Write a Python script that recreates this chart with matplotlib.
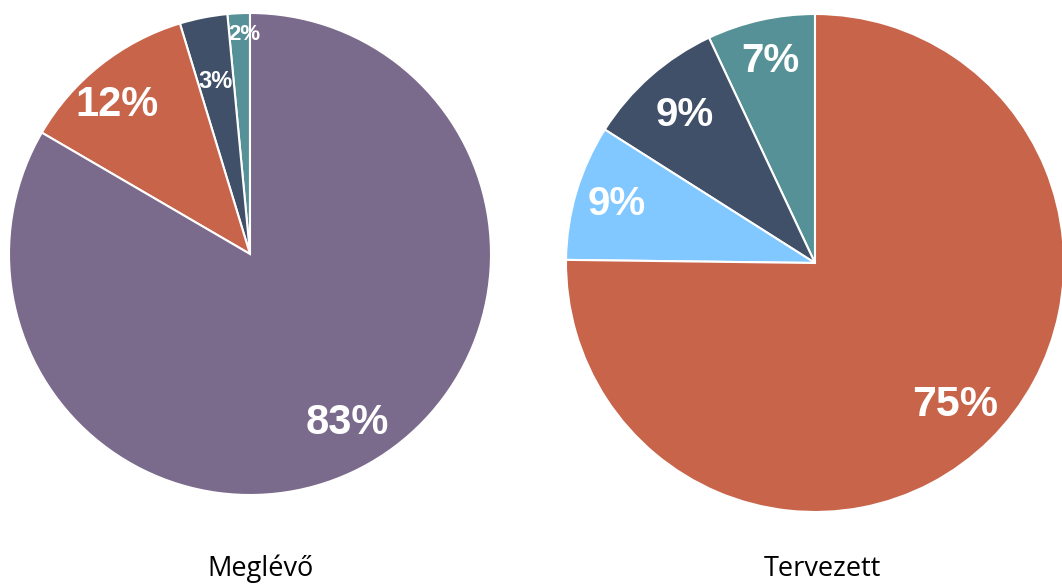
import matplotlib.pyplot as plt
import numpy as np

# data (shares in %, counter-clockwise from 12 o'clock)
left_title = 'Meglévő'
left_values = [1.5, 3.2, 11.9, 83.4]
left_labels = ['2%', '3%', '12%', '83%']
left_colors = ['#559196', '#3f5068', '#c8644a', '#7a6a8c']

right_title = 'Tervezett'
right_values = [7.0, 9.0, 8.8, 75.2]
right_labels = ['7%', '9%', '9%', '75%']
right_colors = ['#559196', '#3f5068', '#80c8ff', '#c8644a']

W, H = 1062, 584
fig = plt.figure(figsize=(W / 100, H / 100), dpi=100)


def pie_axes(cx, cy, r):
    # pixel centre / radius -> figure fraction box
    return fig.add_axes([(cx - r) / W, (H - cy - r) / H, 2 * r / W, 2 * r / H])


def draw_pie(ax, values, colors, labels, dists, sizes, shifts):
    wedges, _ = ax.pie(values, colors=colors, startangle=90, counterclock=True,
                       radius=1, wedgeprops=dict(edgecolor='white', linewidth=1.5))
    for w, lab, d, s, sh in zip(wedges, labels, dists, sizes, shifts):
        ang = np.deg2rad((w.theta1 + w.theta2) / 2 + sh)
        ax.text(d * np.cos(ang), d * np.sin(ang), lab, ha='center', va='center',
                color='white', fontsize=s, fontweight='bold', family='Liberation Sans')
    ax.set_xlim(-1, 1)
    ax.set_ylim(-1, 1)
    ax.axis('off')


ax1 = pie_axes(250, 254, 241)
draw_pie(ax1, left_values, left_colors, left_labels,
         [0.91, 0.73, 0.83, 0.81], [16, 17, 30, 30], [-1.3, 0, 3.5, 0])

ax2 = pie_axes(815, 263, 249)
draw_pie(ax2, right_values, right_colors, right_labels,
         [0.83, 0.79, 0.83, 0.80], [29, 29, 29, 31], [0, 0, 0, 0])

fig.text(260 / W, 1 - 569 / H, left_title, ha='center', va='center',
         fontsize=19.5, family='Open Sans')
fig.text(822 / W, 1 - 569 / H, right_title, ha='center', va='center',
         fontsize=19.5, family='Open Sans')

fig.savefig('out.png', dpi=100)
